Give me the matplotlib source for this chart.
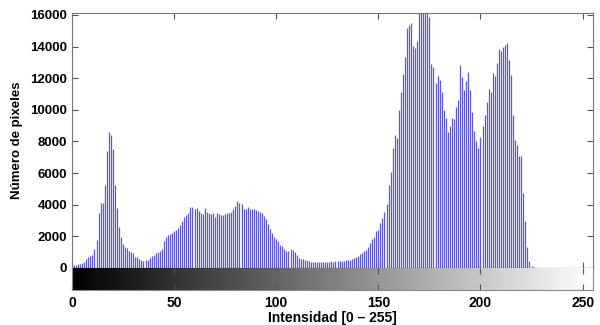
import numpy as np
import matplotlib
matplotlib.use('Agg')
from matplotlib import pyplot as plt

plt.rcParams['font.family'] = ['Liberation Sans', 'DejaVu Sans']

# histogram counts for intensity levels 0..255
counts_0_57 = [170, 210, 220, 230, 240, 300, 400, 550, 700, 760,
               830, 1180, 1770, 3500, 4130, 4080, 5220, 7410, 8570, 8420,
               7520, 5250, 3820, 2620, 1980, 1500, 1350, 1240, 1100, 1030,
               930, 720, 700, 550, 480, 450, 480, 520, 620, 760,
               830, 960, 1030, 1100, 1220, 1700, 1980, 2060, 2130, 2230,
               2350, 2400, 2500, 2700, 2950, 3200, 3350, 3500]
counts_58_101 = [3880, 3850, 3720, 3780, 3580, 3500, 3400, 3770, 3560, 3500,
                 3400, 3480, 3250, 3450, 3430, 3380, 3350, 3400, 3480, 3500,
                 3560, 3700, 3920, 4250, 4100, 4050, 3750, 3700, 3830, 3750,
                 3700, 3720, 3680, 3620, 3560, 3450, 3300, 3100, 2800, 2450,
                 2200, 1980, 1850, 1700]
counts_102_154 = [1450, 1365, 1180, 1100, 1100, 1180, 1140, 1035, 820, 610,
                  570, 550, 505, 505, 460, 400, 380, 360, 360, 380,
                  360, 380, 360, 380, 380, 420, 400, 420, 420, 440,
                  460, 460, 480, 480, 480, 550, 610, 715, 780, 865,
                  970, 1075, 1140, 1350, 1600, 1810, 1940, 2340, 2400, 2830,
                  3140, 3560, 4045]
counts_155_227 = [5245, 6086, 7565, 8405, 8195, 9985, 11140, 12260, 13315, 15150,
                  15360, 15465, 14030, 13925, 14365, 16500, 17000, 16800, 16400, 16100,
                  15840, 12890, 12680, 11670, 12135, 11880, 11140, 9985, 9460, 8615,
                  8995, 9460, 9400, 10150, 10620, 12830, 12050, 11250, 11800, 12400,
                  11250, 9880, 8680, 8030, 7565, 8300, 8950, 9700, 10510, 11290,
                  11150, 12300, 12150, 12950, 13850, 13750, 13990, 14100, 14240, 13145,
                  12200, 9670, 8090, 7800, 7100, 7100, 4730, 3000, 1300, 450,
                  150, 60, 20]
counts = counts_0_57 + counts_58_101 + counts_102_154 + counts_155_227
counts = counts + [0] * (256 - len(counts))
levels = np.arange(256)

y_ticks = [0, 2000, 4000, 6000, 8000, 10000, 12000, 14000, 16000]
x_ticks = [0, 50, 100, 150, 200, 250]

fig = plt.figure(figsize=(6, 3.25), dpi=100)
ax = fig.add_axes([0.12, 0.1754, 0.868, 0.786])
cax = fig.add_axes([0.12, 0.1077, 0.868, 0.0677])

ax.vlines(levels, 0, counts, color='#5c5cc4', linewidth=0.9)
ax.set_xlim(0, 255)
ax.set_ylim(0, 16150)
ax.set_yticks(y_ticks)
ax.set_xticks(x_ticks)
ax.tick_params(direction='in', length=4, top=True, right=True, labelbottom=False,
               color='#555555', labelsize=9.5)
for lab in ax.get_yticklabels():
    lab.set_fontweight('bold')
for side in ['left', 'right', 'top']:
    ax.spines[side].set_color('#777777')
ax.spines['bottom'].set_color('black')
ax.set_ylabel('Número de pixeles', fontsize=9.5, fontweight='bold', labelpad=5)

# gray level strip under the histogram
gradient = np.linspace(0, 1, 256)[None, :]
cax.imshow(gradient, cmap='gray', aspect='auto', extent=[0, 255, 0, 1])
cax.set_xlim(0, 255)
cax.set_ylim(0, 1)
cax.set_yticks([])
cax.set_xticks(x_ticks)
cax.tick_params(direction='in', length=4, top=True, color='#555555', labelsize=10, pad=4)
for lab in cax.get_xticklabels():
    lab.set_fontweight('bold')
for side in ['left', 'right', 'bottom']:
    cax.spines[side].set_color('#888888')
cax.spines['top'].set_visible(False)
cax.set_xlabel('Intensidad [0 – 255]', fontsize=10, fontweight='bold', labelpad=1)

plt.savefig('out.png', dpi=100)
